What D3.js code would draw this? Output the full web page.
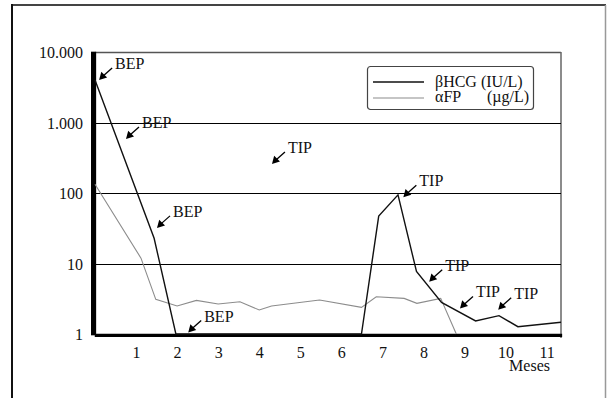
<!DOCTYPE html>
<html>
<head>
<meta charset="utf-8">
<script src="https://cdn.jsdelivr.net/npm/d3@7"></script>
<style>
  body { margin: 0; background: #fff; }
  svg { display: block; }
  svg text { font-family: "Liberation Serif", "Times New Roman", serif; font-size: 16px; fill: #111; }
</style>
</head>
<body>
<div id="chart"></div>
<script>
// months and values
var hcgMonths = [0, 1.44, 1.97, 6.49, 6.91, 7.38, 7.83, 8.44, 9.27, 9.84, 10.3, 11.35];
var hcgValues = [4000, 22.8, 1, 1, 47, 94, 7.7, 2.8, 1.53, 1.82, 1.27, 1.47];

var afpMonths = [0, 1.12, 1.48, 2.0, 2.47, 3.0, 3.53, 4.0, 4.3, 5.47, 6.49, 6.85, 7.53, 7.84, 8.42, 8.8];
var afpValues = [133, 11.9, 3.1, 2.5, 3.0, 2.67, 2.87, 2.19, 2.5, 3.03, 2.39, 3.38, 3.2, 2.72, 3.2, 1];

var yTicks = [1, 10, 100, 1000, 10000];
var xTicks = [1, 2, 3, 4, 5, 6, 7, 8, 9, 10, 11];

// treatment notes: where each arrow points (month, value)
var noteLabels = ["BEP", "BEP", "TIP", "TIP", "BEP", "BEP", "TIP", "TIP", "TIP"];
var noteMonths = [0.1, 0.755, 4.31, 7.51, 1.51, 2.27, 8.14, 8.89, 9.82];
var noteValues = [4000, 583, 258, 87, 32, 1.05, 5.5, 2.3, 2.2];

var seriesNames = ["\u03B2HCG (IU/L)", "\u03B1FP"];

var W = 608, H = 398;
var svg = d3.select("#chart").append("svg").attr("width", W).attr("height", H);

svg.append("rect").attr("width", W).attr("height", H).attr("fill", "#fff");

// outer frame (open at the bottom)
svg.append("line").attr("x1", 12).attr("x2", 606).attr("y1", 5).attr("y2", 5)
  .attr("stroke", "#444").attr("stroke-width", 2);
svg.append("line").attr("x1", 12).attr("x2", 12).attr("y1", 4).attr("y2", H)
  .attr("stroke", "#111").attr("stroke-width", 2);
svg.append("line").attr("x1", 605.5).attr("x2", 605.5).attr("y1", 5).attr("y2", H)
  .attr("stroke", "#999").attr("stroke-width", 1.5);

var x = d3.scaleLinear().domain([0, 11.35]).range([95, 561]);
var y = d3.scaleLog().domain([1, 10000]).range([334, 52]);

var loc = d3.formatLocale({ decimal: ",", thousands: ".", grouping: [3], currency: ["", ""] });
var fmt = loc.format(",d");

// plot box top and right
svg.append("line").attr("x1", 95).attr("x2", 561).attr("y1", y(10000) + 0.5).attr("y2", y(10000) + 0.5)
  .attr("stroke", "#555").attr("stroke-width", 1.3);
svg.append("line").attr("x1", 561).attr("x2", 561).attr("y1", y(10000)).attr("y2", y(1) + 4)
  .attr("stroke", "#666").attr("stroke-width", 1.5);

// gridlines
svg.selectAll(".grid").data([10, 100, 1000]).enter().append("line")
  .attr("x1", 95).attr("x2", 561)
  .attr("y1", function (d) { return Math.round(y(d)) + 0.5; })
  .attr("y2", function (d) { return Math.round(y(d)) + 0.5; })
  .attr("stroke", "#000").attr("stroke-width", 1.2);

var yAxis = svg.append("g").attr("transform", "translate(95,0)")
  .call(d3.axisLeft(y).tickValues(yTicks).tickFormat(fmt).tickSize(4).tickPadding(8));
var xAxis = svg.append("g").attr("transform", "translate(0," + y(1) + ")")
  .call(d3.axisBottom(x).tickValues(d3.range(0, 11.01, 0.5)).tickSize(3)
    .tickFormat(function (d) { return xTicks.indexOf(d) >= 0 ? d : ""; }));

[yAxis, xAxis].forEach(function (a) {
  a.attr("font-family", null).attr("font-size", null).attr("fill", null);
  a.select(".domain").attr("stroke", "#000").attr("stroke-width", 1.3);
  a.selectAll(".tick line").attr("stroke", "#000").attr("stroke-width", 1.2);
  a.selectAll("text").attr("fill", null);
});
xAxis.selectAll("text").attr("y", 24).attr("dy", null);
yAxis.selectAll("text").attr("dy", "0.36em");

svg.append("text").attr("x", 550).attr("y", 371).attr("text-anchor", "end").text("Meses");

var line = d3.line().x(function (d) { return x(d[0]); }).y(function (d) { return y(d[1]); });

svg.append("path").datum(d3.zip(afpMonths, afpValues))
  .attr("d", line).attr("fill", "none").attr("stroke", "#8c8c8c").attr("stroke-width", 1.1);
svg.append("path").datum(d3.zip(hcgMonths, hcgValues))
  .attr("d", line).attr("fill", "none").attr("stroke", "#111").attr("stroke-width", 1.4);

// arrows with labels
var notes = svg.selectAll(".note").data(d3.zip(noteLabels, noteMonths, noteValues)).enter()
  .append("g").attr("transform", function (d) { return "translate(" + x(d[1]) + "," + y(d[2]) + ")"; });
notes.append("line").attr("x1", 13).attr("y1", -12).attr("x2", 4).attr("y2", -4)
  .attr("stroke", "#000").attr("stroke-width", 1.3);
notes.append("path").attr("d", "M0,0 L2.2,-8.2 L8,-2.5 Z").attr("fill", "#000");
notes.append("text").attr("x", 16).attr("y", -11).text(function (d) { return d[0]; });

// legend
var lg = svg.append("g").attr("transform", "translate(367,66)");
lg.append("rect").attr("x", 0.5).attr("y", 0.5).attr("width", 166).attr("height", 43).attr("rx", 3)
  .attr("fill", "#fff").attr("stroke", "#444").attr("stroke-width", 1.2);
lg.append("line").attr("x1", 6).attr("x2", 57).attr("y1", 16).attr("y2", 16).attr("stroke", "#111").attr("stroke-width", 1.4);
lg.append("line").attr("x1", 6).attr("x2", 57).attr("y1", 32).attr("y2", 32).attr("stroke", "#8c8c8c").attr("stroke-width", 1.1);
lg.append("text").attr("x", 68).attr("y", 21).text(seriesNames[0]);
lg.append("text").attr("x", 68).attr("y", 36).text(seriesNames[1]);
lg.append("text").attr("x", 162).attr("y", 36).attr("text-anchor", "end").text("(\u00B5g/L)");
</script>
</body>
</html>
